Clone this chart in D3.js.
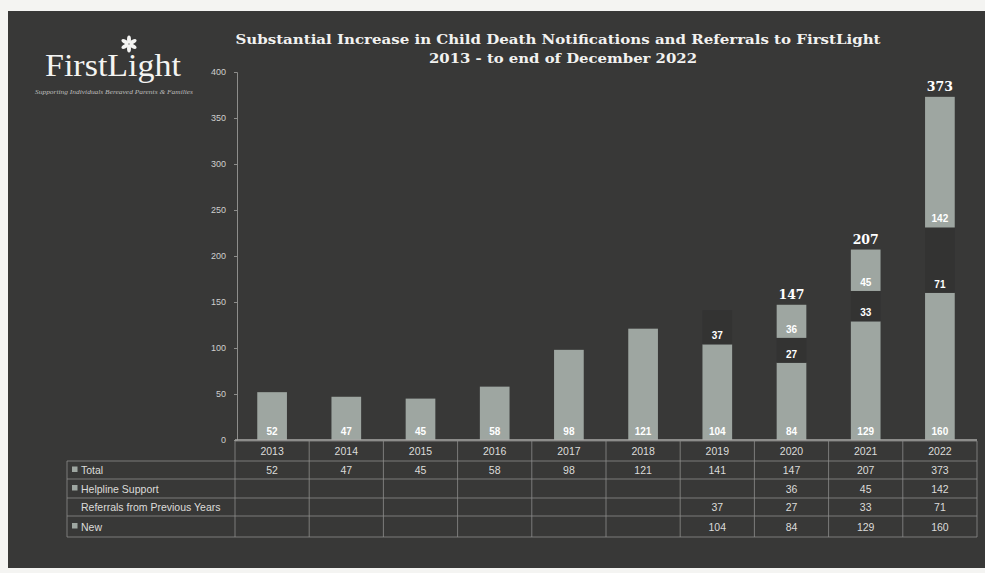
<!DOCTYPE html>
<html>
<head>
<meta charset="utf-8">
<script src="https://cdn.jsdelivr.net/npm/d3@7"></script>
<style>
  body { margin: 0; background: #f4f4f2; }
  svg { display: block; }
</style>
</head>
<body>
<div id="chart"></div>
<script>
// data
const years = ["2013", "2014", "2015", "2016", "2017", "2018", "2019", "2020", "2021", "2022"];
const total = [52, 47, 45, 58, 98, 121, 141, 147, 207, 373];
const helpline = [null, null, null, null, null, null, null, 36, 45, 142];
const referrals = [null, null, null, null, null, null, 37, 27, 33, 71];
const newCases = [null, null, null, null, null, null, 104, 84, 129, 160];
const yTicks = [0, 50, 100, 150, 200, 250, 300, 350, 400];
const showTotal = [false, false, false, false, false, false, false, true, true, true];

const width = 985, height = 573;
const bg = "#383837", barColor = "#9ea6a1", darkSeg = "#333332", lineColor = "#8d8d8b";

const svg = d3.select("#chart").append("svg")
    .attr("width", width)
    .attr("height", height);

// dark card
svg.append("rect")
    .attr("x", 8).attr("y", 11)
    .attr("width", width - 8).attr("height", 557)
    .attr("fill", bg);

// scales
const x = d3.scaleBand()
    .domain(years)
    .range([235, 977])
    .paddingInner(0.6)
    .paddingOuter(0.3);
const colStep = (977 - 235) / years.length;
const colX = i => 235 + i * colStep;

const y = d3.scaleLinear()
    .domain([0, 400])
    .range([440, 72]);

// y axis
const yAxis = d3.axisLeft(y)
    .tickValues(yTicks)
    .tickSize(3)
    .tickPadding(8);
const yG = svg.append("g")
    .attr("transform", "translate(237,0)")
    .call(yAxis);
yG.select(".domain").attr("stroke", lineColor);
yG.selectAll(".tick line").attr("stroke", lineColor);
yG.selectAll(".tick text")
    .attr("fill", "#cfcfcd")
    .attr("font-family", "Liberation Sans, Arial, sans-serif")
    .attr("font-size", 9);

// build stacked segments
const segs = [];
years.forEach((yr, i) => {
    if (newCases[i] == null) {
        segs.push({ yr: yr, y0: 0, y1: total[i], v: total[i], fill: barColor });
    } else {
        let base = 0;
        segs.push({ yr: yr, y0: base, y1: base + newCases[i], v: newCases[i], fill: barColor });
        base += newCases[i];
        segs.push({ yr: yr, y0: base, y1: base + referrals[i], v: referrals[i], fill: darkSeg });
        base += referrals[i];
        if (helpline[i] != null) {
            segs.push({ yr: yr, y0: base, y1: base + helpline[i], v: helpline[i], fill: barColor });
        }
    }
});

svg.append("g").selectAll("rect")
    .data(segs)
    .enter().append("rect")
    .attr("x", d => x(d.yr))
    .attr("width", x.bandwidth())
    .attr("y", d => y(d.y1))
    .attr("height", d => y(d.y0) - y(d.y1))
    .attr("fill", d => d.fill);

// inside-base labels
svg.append("g").selectAll("text")
    .data(segs)
    .enter().append("text")
    .attr("x", d => x(d.yr) + x.bandwidth() / 2)
    .attr("y", d => y(d.y0) - 5)
    .attr("text-anchor", "middle")
    .attr("fill", "#ffffff")
    .attr("font-family", "Liberation Sans, Arial, sans-serif")
    .attr("font-weight", "bold")
    .attr("font-size", 10)
    .text(d => d.v);

// total labels above stacks
svg.append("g").selectAll("text")
    .data(years.filter((d, i) => showTotal[i]))
    .enter().append("text")
    .attr("x", d => x(d) + x.bandwidth() / 2)
    .attr("y", d => y(total[years.indexOf(d)]) - 6)
    .attr("text-anchor", "middle")
    .attr("fill", "#ffffff")
    .attr("font-family", "DejaVu Serif, serif")
    .attr("font-weight", "bold")
    .attr("font-size", 12.5)
    .text(d => total[years.indexOf(d)]);

// x axis baseline
svg.append("line")
    .attr("x1", 235).attr("x2", 977)
    .attr("y1", y(0)).attr("y2", y(0))
    .attr("stroke", "#a9a9a7").attr("stroke-width", 1.5);

// data table
const rowTops = [441, 461, 479, 498, 516, 537];
const rows = [
    { name: "Total", key: true, vals: total },
    { name: "Helpline Support", key: true, vals: helpline },
    { name: "Referrals from Previous Years", key: false, vals: referrals },
    { name: "New", key: true, vals: newCases }
];
const tbl = svg.append("g")
    .attr("font-family", "Liberation Sans, Arial, sans-serif")
    .attr("font-size", 10.5)
    .attr("fill", "#dcdcda");

// horizontal lines
rowTops.forEach((t, k) => {
    tbl.append("line")
        .attr("x1", k == 0 ? 235 : 67).attr("x2", 977)
        .attr("y1", t).attr("y2", t)
        .attr("stroke", lineColor).attr("stroke-width", 0.8);
});
// vertical lines
tbl.append("line").attr("x1", 67).attr("x2", 67).attr("y1", 461).attr("y2", 537)
    .attr("stroke", lineColor).attr("stroke-width", 0.8);
d3.range(years.length + 1).forEach(i => {
    tbl.append("line")
        .attr("x1", colX(i)).attr("x2", colX(i))
        .attr("y1", 441).attr("y2", 537)
        .attr("stroke", lineColor).attr("stroke-width", 0.8);
});

// header years
tbl.selectAll("text.yr")
    .data(years)
    .enter().append("text")
    .attr("class", "yr")
    .attr("x", (d, i) => colX(i) + colStep / 2)
    .attr("y", 455)
    .attr("text-anchor", "middle")
    .text(d => d);

rows.forEach((r, k) => {
    const top = rowTops[k + 1], bot = rowTops[k + 2];
    const mid = (top + bot) / 2 + 4;
    if (r.key) {
        tbl.append("rect")
            .attr("x", 72).attr("y", mid - 7.5)
            .attr("width", 5.5).attr("height", 5.5)
            .attr("fill", barColor);
    }
    tbl.append("text")
        .attr("x", 81).attr("y", mid)
        .text(r.name);
    r.vals.forEach((v, i) => {
        if (v == null) return;
        tbl.append("text")
            .attr("x", colX(i) + colStep / 2)
            .attr("y", mid)
            .attr("text-anchor", "middle")
            .text(v);
    });
});

// title
const title = svg.append("g")
    .attr("font-family", "DejaVu Serif, serif")
    .attr("font-weight", "bold")
    .attr("fill", "#f2f2f0")
    .attr("text-anchor", "middle");
title.append("text")
    .attr("x", 558).attr("y", 44)
    .attr("font-size", 13)
    .attr("textLength", 645).attr("lengthAdjust", "spacingAndGlyphs")
    .text("Substantial Increase in Child Death Notifications and Referrals to FirstLight");
title.append("text")
    .attr("x", 563).attr("y", 63)
    .attr("font-size", 13)
    .attr("textLength", 268).attr("lengthAdjust", "spacingAndGlyphs")
    .text("2013  - to end of December 2022");

// logo
const logo = svg.append("g").attr("fill", "#f4f4f2");
logo.append("text")
    .attr("x", 45).attr("y", 76)
    .attr("font-family", "Liberation Serif, serif")
    .attr("font-size", 31)
    .attr("textLength", 136).attr("lengthAdjust", "spacingAndGlyphs")
    .text("FirstLight");
const flower = logo.append("g").attr("transform", "translate(129,44)");
d3.range(6).forEach(k => {
    flower.append("ellipse")
        .attr("cx", 0).attr("cy", -4.5)
        .attr("rx", 2).attr("ry", 4)
        .attr("transform", "rotate(" + (k * 60) + ")");
});
logo.append("text")
    .attr("x", 114).attr("y", 94)
    .attr("text-anchor", "middle")
    .attr("font-family", "Liberation Serif, serif")
    .attr("font-style", "italic")
    .attr("font-size", 5.5)
    .attr("fill", "#bdbdbb")
    .attr("textLength", 158).attr("lengthAdjust", "spacingAndGlyphs")
    .text("Supporting Individuals Bereaved Parents & Families");
</script>
</body>
</html>
